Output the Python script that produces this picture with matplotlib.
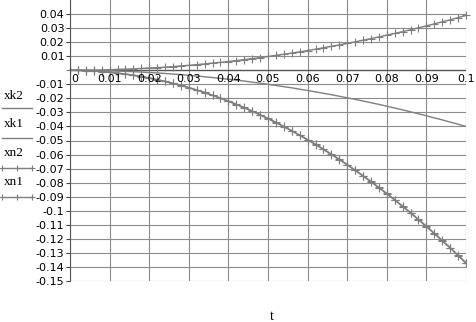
import matplotlib
matplotlib.use("Agg")
import matplotlib.pyplot as plt
from matplotlib.lines import Line2D
import numpy as np

# time samples (step 0.002)
t = np.linspace(0, 0.1, 51)

xk2 = [0.0, 0.0, 0.0001, 0.0001, 0.0002, 0.0004, 0.0006, 0.0008, 0.0010, 0.0013,
       0.0016, 0.0019, 0.0022, 0.0026, 0.0031, 0.0035, 0.0040, 0.0045, 0.0051, 0.0056,
       0.0062, 0.0069, 0.0076, 0.0083, 0.0090, 0.0098, 0.0106, 0.0114, 0.0122, 0.0131,
       0.0140, 0.0150, 0.0160, 0.0170, 0.0180, 0.0191, 0.0202, 0.0214, 0.0225, 0.0237,
       0.0250, 0.0262, 0.0275, 0.0288, 0.0302, 0.0316, 0.0330, 0.0345, 0.0359, 0.0375,
       0.0390]
xk1 = [0.0, 0.0, -0.0001, -0.0001, -0.0003, -0.0004, -0.0006, -0.0008, -0.0010, -0.0013,
       -0.0016, -0.0019, -0.0023, -0.0027, -0.0031, -0.0036, -0.0041, -0.0046, -0.0052, -0.0058,
       -0.0064, -0.0071, -0.0077, -0.0085, -0.0092, -0.0100, -0.0108, -0.0117, -0.0125, -0.0135,
       -0.0144, -0.0154, -0.0164, -0.0174, -0.0185, -0.0196, -0.0207, -0.0219, -0.0231, -0.0243,
       -0.0256, -0.0269, -0.0282, -0.0296, -0.0310, -0.0324, -0.0339, -0.0353, -0.0369, -0.0384,
       -0.0400]
xn2 = [0.0, -0.0001, -0.0002, -0.0005, -0.0009, -0.0014, -0.0020, -0.0027, -0.0035, -0.0044,
       -0.0055, -0.0066, -0.0079, -0.0093, -0.0107, -0.0123, -0.0140, -0.0158, -0.0178, -0.0198,
       -0.0219, -0.0242, -0.0265, -0.0290, -0.0316, -0.0343, -0.0370, -0.0400, -0.0430, -0.0461,
       -0.0493, -0.0527, -0.0561, -0.0597, -0.0634, -0.0671, -0.0710, -0.0750, -0.0791, -0.0834,
       -0.0877, -0.0921, -0.0967, -0.1013, -0.1061, -0.1110, -0.1160, -0.1211, -0.1263, -0.1316,
       -0.1370]
xn1 = [0.0, -0.0001, -0.0003, -0.0006, -0.0010, -0.0015, -0.0021, -0.0028, -0.0036, -0.0046,
       -0.0056, -0.0068, -0.0080, -0.0094, -0.0109, -0.0125, -0.0142, -0.0160, -0.0179, -0.0200,
       -0.0221, -0.0244, -0.0267, -0.0292, -0.0318, -0.0345, -0.0373, -0.0402, -0.0432, -0.0464,
       -0.0496, -0.0529, -0.0564, -0.0600, -0.0636, -0.0674, -0.0713, -0.0753, -0.0794, -0.0836,
       -0.0880, -0.0924, -0.0970, -0.1016, -0.1064, -0.1113, -0.1163, -0.1214, -0.1266, -0.1319,
       -0.1374]

x_ticks = [0, 0.01, 0.02, 0.03, 0.04, 0.05, 0.06, 0.07, 0.08, 0.09, 0.1]
x_labels = ['0', '0.01', '0.02', '0.03', '0.04', '0.05', '0.06', '0.07', '0.08', '0.09', '0.1']
y_ticks = [round(-0.15 + 0.01 * i, 2) for i in range(20)]

curve = '#7f7f7f'
grid = '#8c8c8c'

fig = plt.figure(figsize=(4.77, 3.22), dpi=100)
ax = fig.add_axes([70 / 477, 41 / 322, 396 / 477, 281 / 322])
ax.set_xlim(0, 0.1)
ax.set_ylim(-0.15, 0.05)

for s in ['top', 'right', 'bottom']:
    ax.spines[s].set_visible(False)
ax.spines['left'].set_color('#555555')

ax.set_xticks(x_ticks)
ax.set_xticklabels([])
ax.tick_params(axis='x', length=0)
ax.set_yticks([v for v in y_ticks if v != 0])
ax.set_yticklabels(['%g' % v for v in y_ticks if v != 0], fontsize=8, family='DejaVu Sans')
ax.tick_params(axis='y', length=3, width=0.8, color='#444444', pad=1)
ax.grid(True, color=grid, linewidth=0.8)
ax.axhline(0, color='#555555', linewidth=1)

for xv, lab in zip(x_ticks, x_labels):
    ax.text(xv + (0.0013 if xv == 0 else 0), -0.0028, lab, ha='center', va='top',
            fontsize=8, family='DejaVu Sans')

ax.plot(t, xk2, color=curve, lw=1, marker='+', ms=5.5, mew=0.8, clip_on=False)
ax.plot(t, xk1, color=curve, lw=1)
ax.plot(t, xn2, color=curve, lw=1, marker='+', ms=5.5, mew=0.8)
ax.plot(t, xn1, color=curve, lw=1, marker='+', ms=5.5, mew=0.8)

# legend drawn at the left, Mathcad style
names = ['xk2', 'xk1', 'xn2', 'xn1']
text_y = [96, 124, 153, 182]
line_y = [108, 138, 168, 197]
for i, name in enumerate(names):
    fig.text(4 / 477, 1 - text_y[i] / 322, name, ha='left', va='center',
             fontsize=9.5, family='Liberation Serif')
    yy = 1 - line_y[i] / 322
    mk = '+' if i >= 2 else None
    fig.add_artist(Line2D([2 / 477, 17 / 477, 32 / 477], [yy, yy, yy],
                          color=curve, lw=1, marker=mk, ms=5, mew=0.8,
                          transform=fig.transFigure))

fig.text(272 / 477, 1 - 316 / 322, 't', ha='center', va='center',
         fontsize=10, family='Liberation Serif')

fig.savefig('out.png', dpi=100)
